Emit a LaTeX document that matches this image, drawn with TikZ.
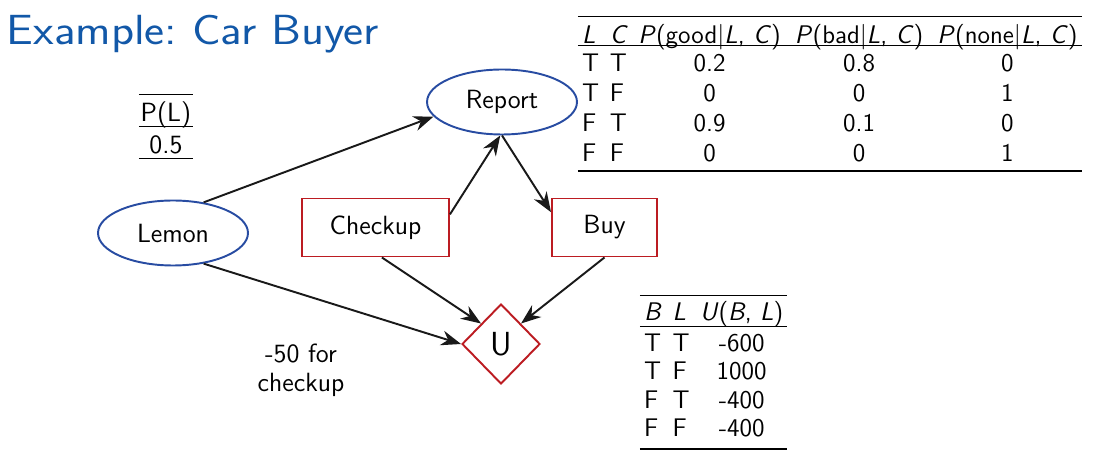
\documentclass[tikz,border=0pt]{standalone}
\usepackage{graphicx}
\usepackage{booktabs}
\usetikzlibrary{shapes.geometric}
\usetikzlibrary{arrows.meta}
\definecolor{titleblue}{RGB}{18,88,168}
\definecolor{chanceblue}{RGB}{40,76,162}
\definecolor{decred}{RGB}{188,28,34}
\newcommand{\nodefont}{\sffamily\fontsize{15}{18}\selectfont}
\newcommand{\tabfont}{\sffamily\fontsize{14.5}{17}\selectfont}
\newcommand{\vi}[1]{\textit{#1}}
\setlength{\aboverulesep}{0pt}
\setlength{\belowrulesep}{3pt}
\tikzstyle{every picture}=[line width=1.1pt]
\tikzstyle{chance}=[ellipse, draw=chanceblue, minimum width=3cm, minimum height=1.3cm, inner sep=0pt, font=\nodefont]
\tikzstyle{decision}=[rectangle, draw=decred, minimum height=1.16cm, inner sep=0pt, font=\nodefont]
\tikzstyle{utility}=[diamond, draw=decred, minimum width=1.56cm, minimum height=1.6cm, inner sep=0pt, font=\sffamily\fontsize{19}{23}\selectfont]
\tikzstyle{infl}=[-{Stealth[length=0.4cm,width=0.3cm]}, black!90]
\tikzstyle{cpt}=[anchor=north west, inner sep=0pt, font=\tabfont]

\begin{document}
\begin{tikzpicture}[x=0.02cm, y=-0.02cm]
\useasboundingbox (0,0) rectangle (1101,455);

	\node[anchor=base west, inner sep=0pt, text=titleblue, font=\sffamily\fontsize{24}{28}\selectfont] (title) at (6,45) {\scalebox{1.13}[1]{Example:\ Car Buyer}};

	\path (173,233) node[chance] (lemon) {Lemon}
	      (502,102) node[chance] (report) {Report}
	      (375.5,227.5) node[decision, minimum width=2.94cm] (checkup) {Checkup}
	      (604.5,227.5) node[decision, minimum width=2.1cm] (buy) {Buy}
	      (501,344) node[utility] (u) {U};

	\draw[infl] (lemon.45) -- (report.192);
	\draw[infl] (checkup.10) -- (report.-93);
	\draw[infl] (report.south) -- (buy.164);
	\draw[infl] (lemon.-45) -- (u.west);
	\draw[infl] (checkup.-78) -- (u.north west);
	\draw[infl] (buy.south) -- (u.north east);

	\node[align=center, inner sep=0pt, font=\sffamily\fontsize{15}{16.5}\selectfont] (cost) at (301,370) {-50 for\\checkup};

	\node[cpt, font=\sffamily\fontsize{15}{18}\selectfont] (priorL) at (138,93) {\setlength{\belowrulesep}{2.3pt}%
	\begin{tabular}{@{\hspace{1pt}}c@{\hspace{1pt}}}
	\toprule
	P(L)\\[-2.8pt]
	\midrule
	0.5\\[-2.8pt]
	\bottomrule
	\end{tabular}};

	\node[cpt] (reportcpt) at (577,15) {\begin{tabular}{@{\,}l@{\hspace{6pt}}l@{\hspace{6pt}}c@{\hspace{8pt}}c@{\hspace{8pt}}c@{\,}}
	\toprule
	\vi{L} & \vi{C} & \vi{P}(good|\vi{L}, \vi{C}) & \vi{P}(bad|\vi{L}, \vi{C}) & \vi{P}(none|\vi{L}, \vi{C})\\[-4.5pt]
	\midrule
	T & T & 0.2 & 0.8 & 0\\
	T & F & 0 & 0 & 1\\
	F & T & 0.9 & 0.1 & 0\\
	F & F & 0 & 0 & 1\\
	\bottomrule
	\end{tabular}};

	\node[cpt, font=\sffamily\fontsize{14.5}{16.2}\selectfont] (utilcpt) at (639,294) {\setlength{\belowrulesep}{2.3pt}%
	\begin{tabular}{@{\,}l@{\hspace{6pt}}l@{\hspace{6pt}}c@{\,}}
	\toprule
	\vi{B} & \vi{L} & \vi{U}(\vi{B}, \vi{L})\\[-1.5pt]
	\midrule
	T & T & -600\\
	T & F & 1000\\
	F & T & -400\\
	F & F & -400\\[1.8pt]
	\bottomrule
	\end{tabular}};

\end{tikzpicture}
\end{document}
